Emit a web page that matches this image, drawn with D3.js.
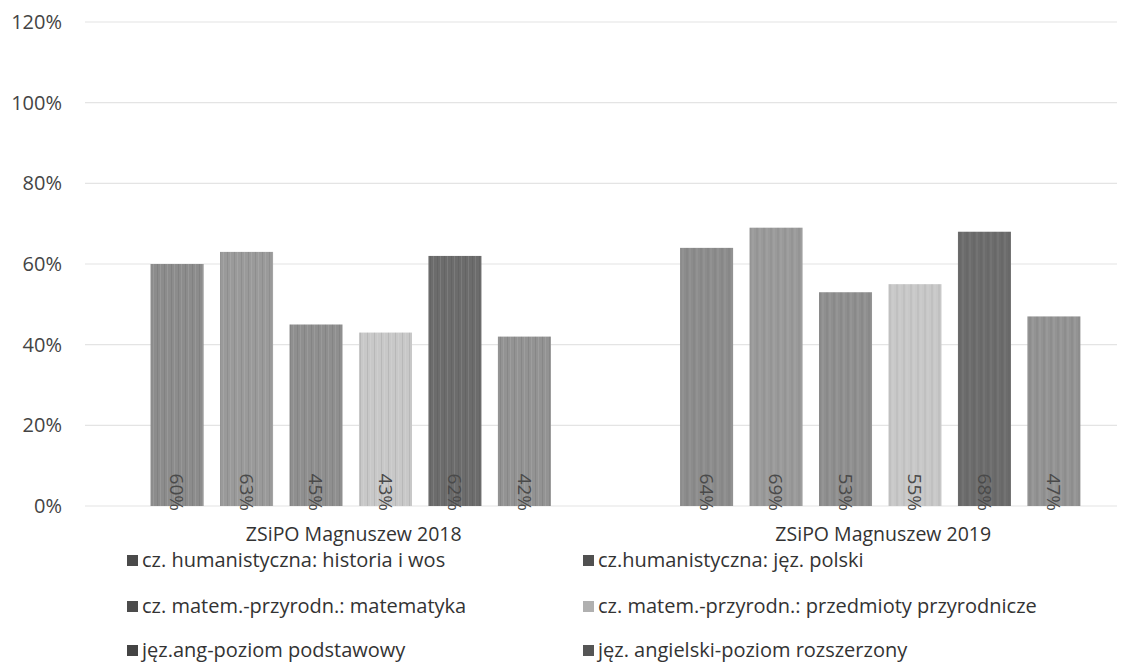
<!DOCTYPE html>
<html>
<head>
<meta charset="utf-8">
<script src="https://cdn.jsdelivr.net/npm/d3@7"></script>
<style>
  body { margin: 0; background: #fff; }
  text { font-family: "Open Sans", Lato, sans-serif; }
</style>
</head>
<body>
<div id="chart"></div>
<script>
// data
var categories = ['ZSiPO Magnuszew 2018', 'ZSiPO Magnuszew 2019'];
var seriesNames = [
  'cz. humanistyczna: historia i wos',
  'cz.humanistyczna: jęz. polski',
  'cz. matem.-przyrodn.: matematyka',
  'cz. matem.-przyrodn.: przedmioty przyrodnicze',
  'jęz.ang-poziom podstawowy',
  'jęz. angielski-poziom rozszerzony'
];
var values2018 = [0.60, 0.63, 0.45, 0.43, 0.62, 0.42];
var values2019 = [0.64, 0.69, 0.53, 0.55, 0.68, 0.47];
var seriesColors = ['#8c8c8c', '#9a9a9a', '#8f8f8f', '#c8c8c8', '#6c6c6c', '#939393'];
var legendColors = ['#4a4a4a', '#505050', '#4c4c4c', '#b0b0b0', '#444444', '#555555'];
var yTicks = [0, 0.2, 0.4, 0.6, 0.8, 1.0, 1.2];

var width = 1137, height = 664;

var svg = d3.select('#chart').append('svg')
  .attr('width', width)
  .attr('height', height);

// stripe texture, the scan has vertical streaks on every bar
var defs = svg.append('defs');
var pat = defs.append('pattern')
  .attr('id', 'streaks')
  .attr('patternUnits', 'userSpaceOnUse')
  .attr('width', 7).attr('height', 10);
pat.append('rect').attr('x', 1).attr('width', 1).attr('height', 10).attr('fill', '#000').attr('opacity', 0.08);
pat.append('rect').attr('x', 4).attr('width', 1).attr('height', 10).attr('fill', '#fff').attr('opacity', 0.10);

var y = d3.scaleLinear().domain([0, 1.2]).range([506, 22]);

var x0 = d3.scaleBand().domain(categories).range([86, 1145]);
var x1 = d3.scaleBand().domain(d3.range(seriesNames.length))
  .range([0, x0.bandwidth()])
  .paddingInner(0.237)
  .paddingOuter(0.93);

var pct = d3.format('.0%');

// gridlines + y labels
var yAxis = svg.append('g');
yAxis.selectAll('line').data(yTicks).enter().append('line')
  .attr('x1', 85).attr('x2', 1117)
  .attr('y1', function(d){ return y(d); })
  .attr('y2', function(d){ return y(d); })
  .attr('stroke', '#e4e4e4')
  .attr('stroke-width', 1.2);
yAxis.selectAll('text').data(yTicks).enter().append('text')
  .attr('x', 62)
  .attr('y', function(d){ return y(d); })
  .attr('dy', '0.35em')
  .attr('text-anchor', 'end')
  .attr('font-size', 20)
  .attr('fill', '#444')
  .text(function(d){ return pct(d); });

var rows = [values2018, values2019];

var groups = svg.selectAll('g.cat').data(categories).enter().append('g')
  .attr('class', 'cat')
  .attr('transform', function(d){ return 'translate(' + x0(d) + ',0)'; });

groups.each(function(cat, ci){
  var g = d3.select(this);
  var vals = rows[ci];
  g.selectAll('rect.bar').data(vals).enter().append('rect')
    .attr('class', 'bar')
    .attr('x', function(d, i){ return x1(i); })
    .attr('y', function(d){ return y(d); })
    .attr('width', x1.bandwidth())
    .attr('height', function(d){ return y(0) - y(d); })
    .attr('fill', function(d, i){ return seriesColors[i]; });
  g.selectAll('rect.tex').data(vals).enter().append('rect')
    .attr('class', 'tex')
    .attr('x', function(d, i){ return x1(i); })
    .attr('y', function(d){ return y(d); })
    .attr('width', x1.bandwidth())
    .attr('height', function(d){ return y(0) - y(d); })
    .attr('fill', 'url(#streaks)');
  // rotated value labels at the base
  g.selectAll('text.val').data(vals).enter().append('text')
    .attr('class', 'val')
    .attr('transform', function(d, i){
      return 'translate(' + (x1(i) + x1.bandwidth() / 2) + ',' + (y(0) + 5) + ') rotate(90)';
    })
    .attr('text-anchor', 'end')
    .attr('dy', '0.35em')
    .attr('font-size', 19)
    .attr('fill', '#4a4a4a')
    .text(function(d){ return pct(d); });
});

// category labels
svg.selectAll('text.cat').data(categories).enter().append('text')
  .attr('class', 'cat')
  .attr('x', function(d){ return x0(d) + x0.bandwidth() / 2 + 3; })
  .attr('y', 541)
  .attr('text-anchor', 'middle')
  .attr('font-size', 19.5)
  .attr('fill', '#333')
  .text(function(d){ return d; });

// legend, two columns
var legendX = [127, 583];
var legendY = [560, 606, 650];
var legend = svg.selectAll('g.leg').data(seriesNames).enter().append('g')
  .attr('class', 'leg')
  .attr('transform', function(d, i){
    return 'translate(' + legendX[i % 2] + ',' + legendY[Math.floor(i / 2)] + ')';
  });
legend.append('rect')
  .attr('x', 0).attr('y', -5)
  .attr('width', 11).attr('height', 11)
  .attr('fill', function(d, i){ return legendColors[i]; });
legend.append('text')
  .attr('x', 15)
  .attr('dy', '0.35em')
  .attr('font-size', 20)
  .attr('fill', '#333')
  .text(function(d){ return d; });
</script>
</body>
</html>
